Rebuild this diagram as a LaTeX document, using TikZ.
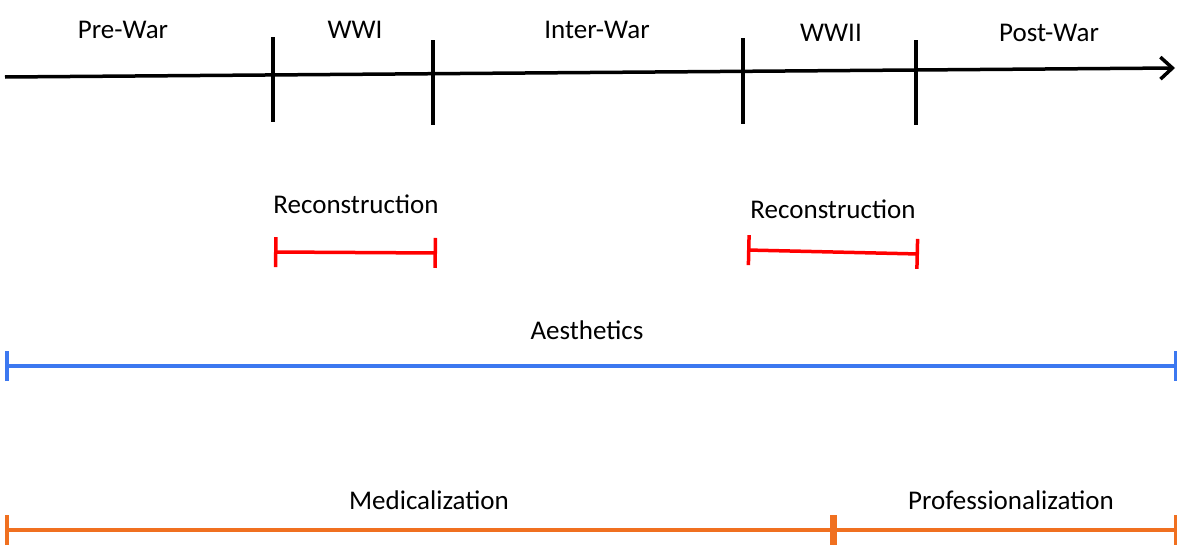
\documentclass[tikz,border=0pt]{standalone}
\usepackage{fontspec}
\setmainfont{Carlito}
\usetikzlibrary{arrows.meta}
\definecolor{rc}{HTML}{FF0000}
\definecolor{bc}{HTML}{3C78F0}
\definecolor{oc}{HTML}{F07020}
\begin{document}
\begin{tikzpicture}[x=1pt,y=-1pt,
  lbl/.style={font=\fontsize{27}{30}\selectfont,inner sep=0pt},
  tick/.style={line width=3.5pt},
  span/.style={line width=3.5pt,arrows={Bar[width=30pt,line width=3.5pt]-Bar[width=30pt,line width=3.5pt]}}]
\useasboundingbox (0,0) rectangle (1200,546);
\coordinate (a0) at (5,77); \coordinate (a1) at (1175,68);
\draw[line width=3.5pt,-{Straight Barb[length=12pt,width=22pt,line width=3.5pt]}] (a0) -- (a1);
\foreach \x/\t/\b in {273/37/122,433/40/125,743/38/124,916/40/125}
  \draw[tick] (\x,\t) -- (\x,\b);
\node[lbl] (pw) at (123,30) {Pre-War};
\node[lbl] (w1) at (355,30) {WWI};
\node[lbl] (iw) at (597,30) {Inter-War};
\node[lbl] (w2) at (831,33) {WWII};
\node[lbl] (po) at (1049,33) {Post-War};
\node[lbl] (r1) at (356,204) {Reconstruction};
\node[lbl] (r2) at (833,209) {Reconstruction};
\coordinate (r1a) at (274,252); \coordinate (r1b) at (437,253);
\coordinate (r2a) at (747,250); \coordinate (r2b) at (919,254);
\draw[span,rc] (r1a) -- (r1b);
\draw[span,rc] (r2a) -- (r2b);
\node[lbl] (ae) at (587,330) {Aesthetics};
\coordinate (ba) at (5,366); \coordinate (bb) at (1177,366);
\draw[span,bc] (ba) -- (bb);
\node[lbl] (me) at (429,500) {Medicalization};
\node[lbl] (pr) at (1011,500) {Professionalization};
\coordinate (oa) at (5,530); \coordinate (om) at (833,530); \coordinate (ob) at (1177,530);
\draw[span,oc] (oa) -- (om);
\draw[span,oc] (om) -- (ob);
\end{tikzpicture}
\end{document}
